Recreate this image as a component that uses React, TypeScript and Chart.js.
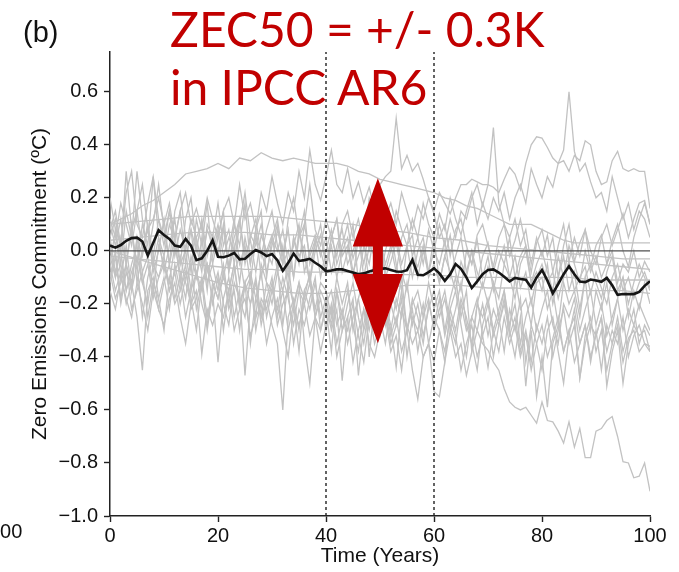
import React, { useEffect, useRef } from "react";
import { Chart, registerables } from "chart.js";
Chart.register(...registerables);

// ---------- DATA ----------
const xTickValues = [0, 20, 40, 60, 80, 100];
const yTickValues = [-1.0, -0.8, -0.6, -0.4, -0.2, 0.0, 0.2, 0.4, 0.6];
const xMin = 0, xMax = 100, yMin = -1.0, yMax = 0.75;
const markerYears = [40, 60];
const zeroLine = [0, 0];

// multi-model mean, years 0..100
const meanZEC = [
  0.020, 0.012, 0.022, 0.038, 0.048, 0.050, 0.035, -0.018, 0.030, 0.078,
  0.060, 0.045, 0.020, 0.015, 0.045, 0.020, -0.035, -0.028, 0.000, 0.040,
  -0.022, -0.024, -0.018, -0.008, -0.032, -0.030, -0.012, 0.003, -0.006, -0.020,
  -0.012, -0.035, -0.075, -0.045, -0.010, -0.038, -0.035, -0.030, -0.045, -0.058,
  -0.077, -0.074, -0.070, -0.070, -0.076, -0.082, -0.088, -0.085, -0.078, -0.072,
  -0.068, -0.066, -0.072, -0.078, -0.079, -0.073, -0.034, -0.090, -0.092, -0.080,
  -0.066, -0.085, -0.113, -0.088, -0.050, -0.068, -0.100, -0.140, -0.115, -0.088,
  -0.072, -0.070, -0.082, -0.098, -0.115, -0.102, -0.106, -0.109, -0.138, -0.100,
  -0.072, -0.112, -0.160, -0.125, -0.088, -0.058, -0.088, -0.116, -0.118, -0.108,
  -0.112, -0.117, -0.102, -0.130, -0.166, -0.163, -0.163, -0.163, -0.155, -0.132, -0.115
];

// individual models, years 0..100
const modelA = [
  0.08, 0.15, 0.02, 0.22, 0.30, 0.10, 0.05, 0.18, 0.28, 0.12,
  0.02, 0.15, 0.05, -0.05, 0.12, 0.20, 0.02, -0.08, 0.10, 0.05,
  0.18, 0.02, 0.08, -0.05, 0.10, 0.22, 0.05, 0.12, -0.02, 0.08,
  0.15, 0.02, -0.05, 0.12, 0.20, 0.05, 0.10, 0.25, 0.08, 0.02,
  0.12, 0.05, -0.02, 0.10, 0.15, 0.05, 0.12, 0.02, 0.20, 0.15,
  0.25, 0.28, 0.30, 0.50, 0.31, 0.36, 0.30, 0.33, 0.27, 0.20,
  0.14, 0.05, 0.10, -0.02, 0.08, 0.12, 0.02, -0.05, 0.06, 0.10,
  0.02, -0.06, 0.05, 0.10, -0.02, 0.04, 0.12, 0.02, -0.08, 0.03,
  0.08, -0.02, 0.05, -0.10, 0.02, 0.10, -0.04, 0.03, 0.08, -0.06,
  0.02, 0.06, -0.05, 0.04, 0.10, 0.00, -0.06, 0.05, 0.12, 0.18, 0.10
];
const modelB = [
  0.12, 0.05, 0.18, 0.10, 0.02, 0.15, 0.25, 0.08, 0.12, 0.20,
  0.10, 0.18, 0.05, 0.15, 0.22, 0.10, 0.16, 0.08, 0.20, 0.12,
  0.05, 0.15, 0.20, 0.10, 0.25, 0.12, 0.18, 0.08, 0.22, 0.15,
  0.28, 0.18, 0.10, 0.22, 0.15, 0.30, 0.20, 0.38, 0.25, 0.19,
  0.28, 0.38, 0.25, 0.22, 0.31, 0.20, 0.26, 0.18, 0.24, 0.15,
  0.20, 0.12, 0.18, 0.10, 0.22, 0.15, 0.08, 0.17, 0.12, 0.20,
  0.15, 0.22, 0.18, 0.14, 0.20, 0.25, 0.25, 0.27, 0.26, 0.25,
  0.25, 0.24, 0.22, 0.27, 0.315, 0.29, 0.23, 0.33, 0.40, 0.43,
  0.425, 0.39, 0.35, 0.33, 0.34, 0.30, 0.36, 0.34, 0.415, 0.40,
  0.30, 0.25, 0.26, 0.34, 0.375, 0.31, 0.30, 0.31, 0.30, 0.30, 0.16
];
const modelC = [
  -0.05, 0.08, -0.10, 0.02, -0.15, 0.05, -0.02, 0.10, -0.08, 0.00,
  0.12, -0.05, 0.05, -0.12, 0.02, 0.08, -0.10, 0.00, -0.15, 0.05,
  -0.02, 0.10, -0.08, 0.02, -0.12, 0.05, -0.05, 0.08, -0.10, 0.00,
  0.06, -0.08, 0.02, -0.15, 0.05, -0.05, 0.10, -0.02, 0.04, -0.10,
  0.00, 0.08, -0.05, 0.02, 0.10, -0.03, 0.05, 0.12, 0.00, 0.06,
  -0.02, 0.10, 0.04, 0.15, 0.08, 0.02, 0.12, 0.05, 0.18, 0.10,
  0.05, 0.14, 0.08, 0.20, 0.12, 0.06, 0.15, 0.22, 0.10, 0.18,
  0.12, 0.20, 0.15, 0.22, 0.12, 0.20, 0.25, 0.18, 0.31, 0.25,
  0.20, 0.28, 0.24, 0.33, 0.38, 0.60, 0.375, 0.30, 0.33, 0.26,
  0.20, 0.22, 0.15, 0.28, 0.20, 0.12, 0.18, 0.08, 0.15, 0.12, 0.05
];
const modelD = [
  0.02, -0.10, 0.05, -0.05, 0.10, -0.12, 0.00, 0.08, -0.05, 0.05,
  -0.08, 0.02, 0.12, -0.05, 0.00, -0.15, 0.05, 0.10, -0.08, -0.02,
  0.08, -0.10, 0.00, 0.12, -0.05, 0.02, -0.12, 0.05, 0.00, -0.08,
  0.02, 0.10, -0.05, 0.00, -0.10, 0.08, -0.02, -0.12, 0.05, 0.00,
  -0.08, 0.05, 0.12, -0.02, 0.02, -0.10, 0.05, -0.05, 0.08, 0.00,
  0.05, -0.05, 0.02, -0.08, 0.05, 0.10, -0.02, 0.05, -0.05, 0.08,
  0.00, 0.10, 0.02, 0.12, 0.05, 0.15, 0.12, 0.20, 0.25, 0.17,
  0.25, 0.465, 0.18, 0.10, 0.05, 0.12, 0.02, 0.08, -0.05, 0.05,
  -0.02, 0.06, -0.08, 0.02, 0.10, -0.04, 0.05, -0.02, 0.08, 0.00,
  -0.05, 0.05, 0.10, 0.02, 0.08, 0.14, 0.05, 0.12, 0.18, 0.19, 0.10
];
const modelE = [
  -0.05, -0.15, -0.08, -0.20, -0.12, -0.25, -0.45, -0.15, -0.10, -0.22,
  -0.12, -0.05, -0.18, -0.10, -0.25, -0.15, -0.08, -0.20, -0.28, -0.12,
  -0.18, -0.08, -0.22, -0.15, -0.30, -0.12, -0.20, -0.10, -0.25, -0.18,
  -0.28, -0.35, -0.60, -0.25, -0.18, -0.30, -0.15, -0.22, -0.12, -0.25,
  -0.18, -0.28, -0.15, -0.30, -0.20, -0.12, -0.25, -0.35, -0.20, -0.28,
  -0.15, -0.22, -0.30, -0.18, -0.25, -0.12, -0.28, -0.20, -0.32, -0.22,
  -0.15, -0.25, -0.18, -0.30, -0.22, -0.12, -0.28, -0.35, -0.20, -0.25,
  -0.18, -0.30, -0.22, -0.15, -0.28, -0.20, -0.35, -0.25, -0.18, -0.30,
  -0.22, -0.15, -0.28, -0.35, -0.20, -0.25, -0.18, -0.30, -0.22, -0.15,
  -0.28, -0.20, -0.32, -0.25, -0.18, -0.30, -0.22, -0.28, -0.20, -0.25, -0.30
];
const modelF = [
  0.05, -0.08, 0.00, -0.15, -0.05, 0.02, -0.12, -0.20, -0.05, -0.10,
  -0.02, -0.15, -0.08, -0.20, -0.10, -0.05, -0.22, -0.12, -0.30, -0.15,
  -0.42, -0.18, -0.10, -0.25, -0.15, -0.47, -0.20, -0.12, -0.28, -0.18,
  -0.10, -0.25, -0.15, -0.30, -0.20, -0.12, -0.35, -0.50, -0.25, -0.18,
  -0.30, -0.20, -0.35, -0.25, -0.15, -0.28, -0.38, -0.22, -0.30, -0.18,
  -0.25, -0.35, -0.20, -0.28, -0.15, -0.30, -0.22, -0.38, -0.25, -0.18,
  -0.30, -0.22, -0.15, -0.28, -0.35, -0.20, -0.30, -0.25, -0.18, -0.32,
  -0.25, -0.40, -0.28, -0.20, -0.32, -0.25, -0.38, -0.30, -0.42, -0.28,
  -0.35, -0.25, -0.40, -0.30, -0.22, -0.35, -0.28, -0.48, -0.32, -0.25,
  -0.38, -0.30, -0.45, -0.35, -0.28, -0.42, -0.33, -0.30, -0.38, -0.35, -0.38
];
const modelG = [
  -0.10, 0.00, -0.18, -0.05, -0.12, 0.05, -0.08, -0.02, -0.15, 0.02,
  -0.05, -0.12, 0.02, -0.08, -0.18, -0.02, -0.10, 0.05, -0.12, -0.05,
  -0.15, -0.05, -0.20, -0.08, -0.02, -0.15, -0.10, -0.25, -0.05, -0.12,
  -0.20, -0.08, -0.15, -0.05, -0.22, -0.12, -0.18, -0.08, -0.25, -0.15,
  -0.20, -0.30, -0.22, -0.49, -0.25, -0.18, -0.47, -0.28, -0.15, -0.25,
  -0.32, -0.20, -0.28, -0.44, -0.22, -0.30, -0.18, -0.25, -0.35, -0.20,
  -0.28, -0.18, -0.32, -0.22, -0.15, -0.28, -0.40, -0.25, -0.30, -0.20,
  -0.32, -0.22, -0.28, -0.18, -0.30, -0.40, -0.25, -0.51, -0.30, -0.55,
  -0.40, -0.59, -0.35, -0.28, -0.38, -0.30, -0.25, -0.48, -0.35, -0.28,
  -0.32, -0.25, -0.51, -0.38, -0.30, -0.50, -0.35, -0.28, -0.32, -0.30, -0.38
];
const modelH = [
  -0.02, -0.10, -0.05, -0.15, -0.08, -0.02, -0.12, -0.05, -0.18, -0.10,
  -0.05, -0.15, -0.08, -0.02, -0.12, -0.20, -0.08, -0.15, -0.05, -0.12,
  -0.18, -0.10, -0.15, -0.05, -0.20, -0.12, -0.08, -0.18, -0.25, -0.12,
  -0.15, -0.22, -0.10, -0.18, -0.28, -0.15, -0.20, -0.12, -0.25, -0.30,
  -0.20, -0.15, -0.28, -0.22, -0.35, -0.25, -0.18, -0.30, -0.22, -0.35,
  -0.28, -0.20, -0.32, -0.25, -0.38, -0.30, -0.45, -0.56, -0.40, -0.35,
  -0.53, -0.55, -0.42, -0.30, -0.40, -0.35, -0.47, -0.38, -0.30, -0.35,
  -0.375, -0.42, -0.45, -0.52, -0.57, -0.59, -0.60, -0.59, -0.62, -0.65,
  -0.57, -0.64, -0.645, -0.68, -0.725, -0.645, -0.74, -0.67, -0.78, -0.78,
  -0.68, -0.67, -0.64, -0.625, -0.70, -0.795, -0.80, -0.856, -0.85, -0.80, -0.907
];
const modelI = [
  0.10, 0.02, 0.12, -0.05, 0.08, 0.15, 0.00, 0.10, -0.02, 0.12,
  0.05, 0.15, -0.02, 0.08, 0.00, 0.12, 0.05, -0.05, 0.08, 0.02,
  0.10, -0.02, 0.05, 0.00, 0.12, -0.05, 0.06, 0.02, 0.10, -0.02,
  0.05, 0.00, 0.08, -0.05, 0.02, 0.10, -0.08, 0.00, 0.06, -0.02,
  0.05, -0.08, 0.02, 0.08, -0.05, 0.00, 0.06, -0.10, 0.02, -0.02,
  0.04, -0.08, 0.00, 0.05, -0.05, 0.02, -0.10, 0.00, 0.05, -0.08,
  0.00, -0.05, 0.04, -0.10, -0.02, 0.05, -0.08, 0.00, -0.12, -0.02,
  0.03, -0.08, 0.00, -0.05, 0.05, -0.10, -0.02, 0.02, -0.12, -0.05,
  0.00, -0.08, -0.15, -0.02, -0.10, 0.02, -0.05, -0.12, 0.00, -0.08,
  -0.02, -0.10, -0.05, 0.00, -0.12, -0.05, -0.08, 0.00, -0.10, -0.04, -0.08
];
const modelJ = [
  -0.15, -0.22, -0.10, -0.18, -0.25, -0.12, -0.20, -0.30, -0.15, -0.22,
  -0.28, -0.18, -0.12, -0.25, -0.35, -0.20, -0.15, -0.39, -0.22, -0.28,
  -0.20, -0.25, -0.15, -0.30, -0.22, -0.18, -0.32, -0.25, -0.20, -0.35,
  -0.25, -0.18, -0.30, -0.40, -0.22, -0.28, -0.20, -0.32, -0.25, -0.38,
  -0.28, -0.22, -0.40, -0.30, -0.25, -0.42, -0.30, -0.22, -0.35, -0.40,
  -0.30, -0.25, -0.38, -0.32, -0.45, -0.28, -0.35, -0.30, -0.40, -0.35,
  -0.42, -0.30, -0.38, -0.25, -0.32, -0.45, -0.35, -0.28, -0.40, -0.32,
  -0.44, -0.30, -0.38, -0.25, -0.35, -0.28, -0.40, -0.32, -0.45, -0.35,
  -0.28, -0.40, -0.33, -0.25, -0.38, -0.30, -0.42, -0.35, -0.28, -0.40,
  -0.32, -0.25, -0.38, -0.30, -0.35, -0.25, -0.40, -0.32, -0.28, -0.35, -0.36
];
const modelK = [
  0.20, 0.08, -0.05, 0.15, 0.05, 0.30, 0.12, -0.02, 0.10, 0.25,
  0.08, -0.05, 0.15, 0.22, 0.05, -0.08, 0.12, 0.02, 0.18, -0.05,
  0.05, 0.15, -0.08, 0.10, 0.02, 0.18, -0.05, 0.08, 0.15, -0.10,
  0.05, 0.12, -0.02, 0.08, -0.10, 0.05, 0.15, -0.05, 0.02, 0.10,
  -0.05, 0.05, 0.12, -0.08, 0.00, 0.10, -0.12, 0.02, -0.05, 0.08,
  -0.10, 0.00, 0.08, -0.05, -0.15, 0.02, 0.06, -0.10, 0.00, -0.08,
  0.05, -0.12, -0.02, 0.06, -0.08, -0.15, 0.00, -0.05, 0.04, -0.10,
  -0.02, -0.15, -0.05, 0.02, -0.10, -0.18, -0.05, 0.00, -0.12, -0.08,
  -0.15, -0.05, -0.20, -0.10, -0.02, -0.15, -0.08, -0.22, -0.10, -0.05,
  -0.12, -0.18, -0.08, -0.02, -0.15, -0.10, -0.20, -0.12, -0.05, -0.10, -0.15
];
const modelL = [
  -0.12, -0.02, -0.20, -0.08, -0.15, -0.05, -0.25, -0.10, -0.02, -0.18,
  -0.10, -0.22, -0.05, -0.15, -0.08, -0.18, -0.30, -0.12, -0.05, -0.20,
  -0.10, -0.30, -0.15, -0.05, -0.22, -0.12, -0.35, -0.18, -0.08, -0.25,
  -0.15, -0.05, -0.28, -0.12, -0.20, -0.38, -0.15, -0.10, -0.22, -0.12,
  -0.15, -0.25, -0.10, -0.20, -0.12, -0.30, -0.18, -0.10, -0.40, -0.20,
  -0.12, -0.28, -0.15, -0.22, -0.10, -0.30, -0.20, -0.15, -0.25, -0.12,
  -0.22, -0.15, -0.30, -0.18, -0.10, -0.25, -0.15, -0.38, -0.20, -0.12,
  -0.20, -0.12, -0.25, -0.15, -0.30, -0.10, -0.22, -0.18, -0.28, -0.12,
  -0.10, -0.22, -0.15, -0.28, -0.12, -0.20, -0.15, -0.25, -0.10, -0.30,
  -0.15, -0.22, -0.12, -0.28, -0.18, -0.10, -0.25, -0.15, -0.22, -0.12, -0.20
];
const modelM = [
  0.05, 0.12, 0.00, 0.30, 0.08, -0.05, 0.10, 0.02, 0.28, 0.05,
  -0.02, 0.10, 0.04, 0.15, -0.05, 0.08, 0.00, 0.12, -0.02, 0.06,
  0.00, 0.08, -0.06, 0.05, 0.12, -0.02, 0.04, -0.08, 0.06, 0.00,
  -0.05, 0.08, 0.00, -0.10, 0.05, -0.02, 0.02, -0.12, 0.00, 0.06,
  -0.06, 0.02, -0.10, 0.00, 0.05, -0.08, -0.02, 0.04, -0.12, -0.04,
  0.02, -0.10, -0.04, 0.03, -0.08, -0.15, -0.02, -0.06, 0.02, -0.10,
  -0.05, -0.12, -0.02, -0.08, -0.15, -0.04, -0.10, 0.00, -0.08, -0.14,
  -0.06, -0.12, -0.18, -0.05, -0.10, -0.02, -0.14, -0.08, -0.20, -0.10,
  -0.05, -0.12, -0.08, -0.18, -0.10, -0.04, -0.15, -0.10, -0.06, -0.16,
  -0.08, -0.14, -0.20, -0.10, -0.05, -0.15, -0.10, -0.18, -0.12, -0.08, -0.14
];
const modelN = [
  -0.08, -0.18, -0.12, -0.05, -0.22, -0.15, -0.08, -0.25, -0.12, -0.18,
  -0.30, -0.10, -0.20, -0.15, -0.05, -0.22, -0.18, -0.10, -0.25, -0.15,
  -0.08, -0.20, -0.28, -0.12, -0.18, -0.25, -0.10, -0.30, -0.18, -0.22,
  -0.12, -0.28, -0.20, -0.15, -0.35, -0.22, -0.28, -0.18, -0.10, -0.30,
  -0.22, -0.38, -0.15, -0.25, -0.30, -0.20, -0.32, -0.42, -0.25, -0.18,
  -0.30, -0.22, -0.35, -0.28, -0.18, -0.40, -0.25, -0.30, -0.20, -0.35,
  -0.25, -0.30, -0.42, -0.22, -0.30, -0.18, -0.25, -0.35, -0.45, -0.28,
  -0.20, -0.32, -0.25, -0.38, -0.22, -0.30, -0.18, -0.42, -0.28, -0.35,
  -0.45, -0.30, -0.25, -0.38, -0.50, -0.32, -0.22, -0.35, -0.28, -0.42,
  -0.30, -0.45, -0.28, -0.35, -0.25, -0.38, -0.30, -0.22, -0.35, -0.28, -0.32
];

// slowly varying models (sampled every 2 / 5 years)
const warmYears = [0, 2, 4, 6, 8, 10, 12, 14, 16, 18, 20, 22, 24, 26, 28, 30, 32, 34, 36, 38, 40, 42, 44, 46, 48, 50, 52, 54, 56, 58, 60, 62, 64, 66, 68, 70, 72, 74, 76, 78, 80, 82, 84, 86, 88, 90, 92, 94, 96, 98, 100];
const warmModel = [
  0.10, 0.12, 0.14, 0.17, 0.19, 0.22, 0.25, 0.29, 0.30, 0.31,
  0.33, 0.31, 0.35, 0.34, 0.37, 0.35, 0.34, 0.35, 0.34, 0.33,
  0.33, 0.33, 0.32, 0.30, 0.29, 0.27, 0.26, 0.25, 0.24, 0.23,
  0.22, 0.20, 0.19, 0.17, 0.16, 0.14, 0.12, 0.10, 0.10, 0.10,
  0.08, 0.06, 0.04, 0.03, 0.03, 0.03, 0.03, 0.03, 0.03, 0.03, 0.03
];
const smoothYears = [0, 5, 10, 15, 20, 25, 30, 35, 40, 45, 50, 55, 60, 65, 70, 75, 80, 85, 90, 95, 100];
const smoothP = [0.10, 0.11, 0.12, 0.13, 0.13, 0.13, 0.13, 0.12, 0.11, 0.10, 0.08, 0.07, 0.05, 0.04, 0.02, 0.01, 0.00, -0.01, -0.02, -0.03, -0.03];
const smoothQ = [0.04, 0.05, 0.06, 0.07, 0.07, 0.07, 0.06, 0.06, 0.05, 0.04, 0.03, 0.02, 0.01, 0.00, -0.01, -0.02, -0.03, -0.04, -0.05, -0.06, -0.07];
const smoothR = [0.00, -0.03, -0.06, -0.09, -0.12, -0.14, -0.15, -0.16, -0.16, -0.15, -0.14, -0.13, -0.13, -0.13, -0.14, -0.14, -0.15, -0.15, -0.15, -0.15, -0.16];
const smoothS = [-0.02, -0.03, -0.04, -0.05, -0.06, -0.07, -0.07, -0.08, -0.08, -0.08, -0.09, -0.09, -0.09, -0.10, -0.10, -0.10, -0.10, -0.10, -0.11, -0.11, -0.11];

const annualModels = [modelA, modelB, modelC, modelD, modelE, modelF, modelG, modelH, modelI, modelJ, modelK, modelL, modelM, modelN];
const smoothModels = [smoothP, smoothQ, smoothR, smoothS];

// red double arrow annotation (data units)
const arrowX = 49.6;
const arrowTop = 0.274;
const arrowHeadBaseUpper = 0.016;
const arrowHeadBaseLower = -0.087;
const arrowBottom = -0.348;
const arrowHeadHalfWidth = 4.65;
const arrowShaftHalfWidth = 0.93;

// ---------- STYLE ----------
const sans = "'Liberation Sans', Arial, Helvetica, sans-serif";
const GREY = "#c2c2c2";
const RED = "#c10000";

const fmtY = (v: number) => {
  const s = Math.abs(v).toFixed(1);
  return v < -1e-9 ? "\u2212" + s : s;
};

const arrowPlugin = {
  id: "zecArrow",
  afterDatasetsDraw(chart: any) {
    const { ctx, scales } = chart;
    const x = scales.x, y = scales.y;
    const cx = x.getPixelForValue(arrowX);
    const hw = x.getPixelForValue(arrowX + arrowHeadHalfWidth) - cx;
    const sw = x.getPixelForValue(arrowX + arrowShaftHalfWidth) - cx;
    const yT = y.getPixelForValue(arrowTop);
    const y1 = y.getPixelForValue(arrowHeadBaseUpper);
    const y2 = y.getPixelForValue(arrowHeadBaseLower);
    const yB = y.getPixelForValue(arrowBottom);
    ctx.save();
    ctx.fillStyle = RED;
    ctx.beginPath();
    ctx.moveTo(cx, yT);
    ctx.lineTo(cx + hw, y1);
    ctx.lineTo(cx + sw, y1);
    ctx.lineTo(cx + sw, y2);
    ctx.lineTo(cx + hw, y2);
    ctx.lineTo(cx, yB);
    ctx.lineTo(cx - hw, y2);
    ctx.lineTo(cx - sw, y2);
    ctx.lineTo(cx - sw, y1);
    ctx.lineTo(cx - hw, y1);
    ctx.closePath();
    ctx.fill();
    ctx.restore();
  },
};

export default function App() {
  const ref = useRef<HTMLCanvasElement | null>(null);

  useEffect(() => {
    if (!ref.current) return;
    const datasets: any[] = [];
    datasets.push({
      label: "mean",
      data: meanZEC.map((v, i) => ({ x: i, y: v })),
      borderColor: "#161616",
      borderWidth: 2.6,
      order: 0,
    });
    markerYears.forEach((yr) => {
      datasets.push({
        label: "marker " + yr,
        data: [{ x: yr, y: yMin }, { x: yr, y: yMax }],
        borderColor: "#222",
        borderWidth: 1.4,
        borderDash: [3, 3],
        order: 1,
      });
    });
    datasets.push({
      label: "zero",
      data: [{ x: xMin, y: zeroLine[0] }, { x: xMax, y: zeroLine[1] }],
      borderColor: "#505050",
      borderWidth: 1.3,
      order: 2,
    });
    annualModels.forEach((m, k) => {
      datasets.push({
        label: "model " + k,
        data: m.map((v, i) => ({ x: i, y: v })),
        borderColor: GREY,
        borderWidth: 1.3,
        order: 3,
      });
    });
    datasets.push({
      label: "warm",
      data: warmYears.map((yr, i) => ({ x: yr, y: warmModel[i] })),
      borderColor: GREY,
      borderWidth: 1.3,
      order: 3,
    });
    smoothModels.forEach((m, k) => {
      datasets.push({
        label: "smooth " + k,
        data: smoothYears.map((yr, i) => ({ x: yr, y: m[i] })),
        borderColor: GREY,
        borderWidth: 1.3,
        order: 3,
      });
    });

    const chart = new Chart(ref.current, {
      type: "line",
      data: { datasets },
      options: {
        animation: false,
        responsive: false,
        events: [],
        layout: { padding: { top: 52, right: 29, left: 0, bottom: 0 } },
        plugins: { legend: { display: false }, tooltip: { enabled: false }, title: { display: false } },
        elements: { point: { radius: 0 }, line: { tension: 0, fill: false } },
        scales: {
          x: {
            type: "linear",
            min: xMin,
            max: xMax,
            afterBuildTicks: (s: any) => { s.ticks = xTickValues.map((v) => ({ value: v })); },
            afterFit: (s: any) => { s.height = 56; },
            grid: { drawOnChartArea: false, drawTicks: true, tickLength: 6, tickWidth: 1.4, tickColor: "#222" },
            border: { display: true, color: "#222", width: 1.5 },
            ticks: {
              font: { family: sans, size: 20 },
              color: "#111",
              padding: 2,
              maxRotation: 0,
              autoSkip: false,
              callback: (v: any) => String(v),
            },
            title: {
              display: true,
              text: "Time (Years)",
              font: { family: sans, size: 21 },
              color: "#111",
              padding: { top: 0, bottom: 3 },
            },
          },
          y: {
            type: "linear",
            min: yMin,
            max: yMax,
            afterBuildTicks: (s: any) => { s.ticks = yTickValues.map((v) => ({ value: v })); },
            afterFit: (s: any) => { s.width = 110; },
            grid: { drawOnChartArea: false, drawTicks: true, tickLength: 6, tickWidth: 1.4, tickColor: "#222" },
            border: { display: true, color: "#222", width: 1.5 },
            ticks: {
              font: { family: sans, size: 20 },
              color: "#111",
              padding: 6,
              autoSkip: false,
              callback: (v: any) => fmtY(Number(v)),
            },
            title: {
              display: true,
              text: "Zero Emissions Commitment (\u00BAC)",
              font: { family: sans, size: 21 },
              color: "#111",
              padding: { top: 28, bottom: 0 },
            },
          },
        },
      },
      plugins: [arrowPlugin],
    } as any);
    return () => chart.destroy();
  }, []);

  return (
    <div style={{ position: "absolute", left: 0, top: 0, width: 679, height: 572, background: "#fff", overflow: "hidden" }}>
      <canvas ref={ref} width={679} height={572} style={{ position: "absolute", left: 0, top: 0, width: 679, height: 572 }} />
      <div style={{ position: "absolute", left: 23, top: 17, fontFamily: sans, fontSize: 29, lineHeight: "30px", color: "#111" }}>(b)</div>
      <div
        style={{
          position: "absolute",
          left: 170,
          top: 0,
          fontFamily: "Lato, 'Open Sans', sans-serif",
          fontWeight: 400,
          fontSize: 48,
          lineHeight: "58px",
          color: RED,
          whiteSpace: "nowrap",
        }}
      >
        <div>ZEC50 = +/- 0.3K</div>
        <div>in IPCC AR6</div>
      </div>
      <div style={{ position: "absolute", left: -11, top: 520, fontFamily: sans, fontSize: 20, color: "#111" }}>100</div>
    </div>
  );
}
